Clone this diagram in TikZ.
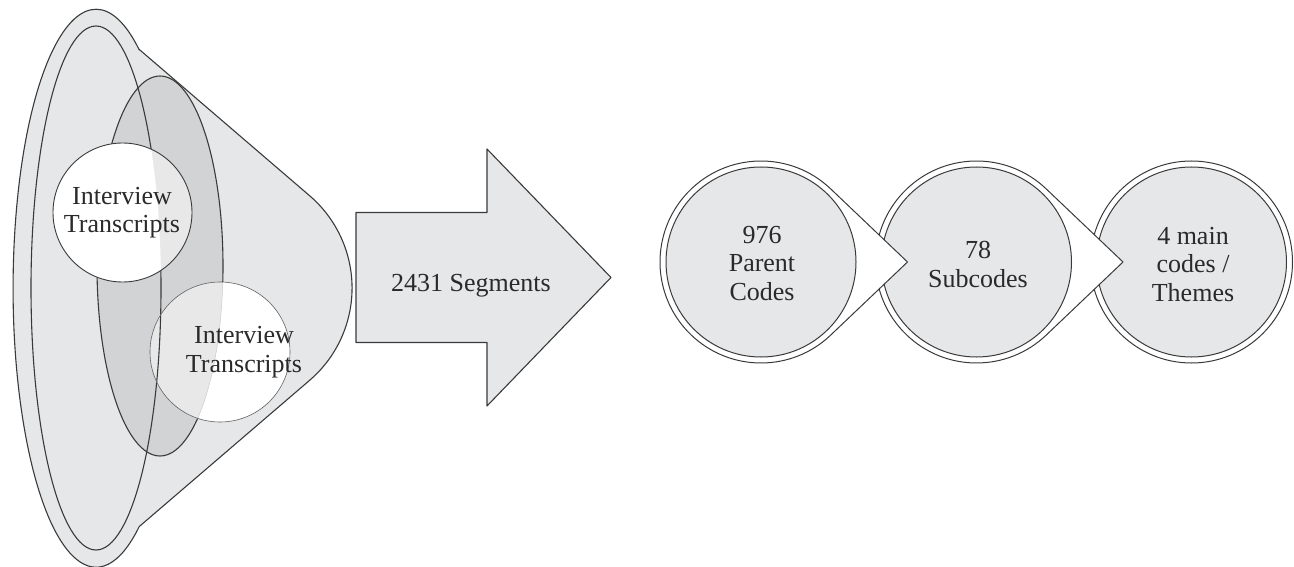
\documentclass[tikz,border=0pt]{standalone}
\usepackage{fontspec}
\setmainfont{Liberation Serif}
\definecolor{fun}{HTML}{E6E7E8}
\definecolor{mid}{HTML}{D1D3D4}
\definecolor{lit}{HTML}{E8E8E9}
\definecolor{edge}{HTML}{3A3A3A}
\definecolor{txt}{HTML}{2A2A2A}
\begin{document}
\begin{tikzpicture}[x=1pt,y=-1pt,line join=round,
  outl/.style={draw=edge,line width=1.1pt},
  lbl/.style={text=txt,font=\fontsize{26}{28.5}\selectfont,align=center,anchor=base,inner sep=0pt},
  ring/.style={draw=edge,line width=1pt,fill=white},
  core/.style={draw=edge,line width=1pt,fill=fun}]
\useasboundingbox (0,0) rectangle (1294,567);
% funnel
\path[fill=fun,outl] (139.2,49.4) -- (309.6,195.7)
  arc[start angle=-49.4,end angle=49.4,radius=121.6]
  -- (139.2,526.6)
  arc[start angle=58.7,end angle=301.3,x radius=83,y radius=279] -- cycle;
\fill[mid] (160,266) ellipse[x radius=63,y radius=190];
\draw[outl] (96,288) ellipse[x radius=65,y radius=262];
\draw[outl] (160,266) ellipse[x radius=63,y radius=190];
% circle 1 (funnel)
\fill[lit] (122.5,212.5) circle[radius=69.5];
\begin{scope}
  \clip (96,288) ellipse[x radius=65,y radius=262];
  \fill[white] (122.5,212.5) circle[radius=69.5];
\end{scope}
\draw[edge,line width=0.9pt] (122.5,212.5) circle[radius=69.5];
% circle 2 (funnel)
\fill[white] (220,352) circle[radius=70];
\begin{scope}
  \clip (160,266) ellipse[x radius=63,y radius=190];
  \fill[lit] (220,352) circle[radius=70];
\end{scope}
\begin{scope}
  \clip (220,352) circle[radius=70];
  \draw[gray!40,line width=0.5pt] (160,266) ellipse[x radius=63,y radius=190];
  \draw[outl] (96,288) ellipse[x radius=65,y radius=262];
\end{scope}
\draw[edge!80,line width=0.6pt] (220,352) circle[radius=70];
\node[lbl] (it1) at (122,233) {Interview\\Transcripts};
\node[lbl] (it2) at (244,372) {Interview\\Transcripts};
% big arrow
\path[fill=fun,outl] (356,212.5) -- (487,212.5) -- (487,149) -- (611,277.5)
  -- (487,406) -- (487,342.5) -- (356,342.5) -- cycle;
\node[lbl] (seg) at (471,291) {2431 Segments};
% right circles, drawn right to left
\draw[ring] (1191.5,262) circle[radius=101];
\draw[core] (1191.5,262) circle[radius=95];
\path[ring] (1123,262) -- (1046.37,189.07)
  arc[start angle=-46.23,end angle=-313.77,radius=101] -- cycle;
\draw[core] (976.5,262) circle[radius=95];
\path[ring] (907.5,262) -- (830.87,189.07)
  arc[start angle=-46.23,end angle=-313.77,radius=101] -- cycle;
\draw[core] (761,262) circle[radius=95];
\node[lbl] (c1) at (762,300) {976\\Parent\\Codes};
\node[lbl] (c2) at (978,287) {78\\Subcodes};
\node[lbl] (c3) at (1193,301) {4 main\\codes /\\Themes};
\end{tikzpicture}
\end{document}
